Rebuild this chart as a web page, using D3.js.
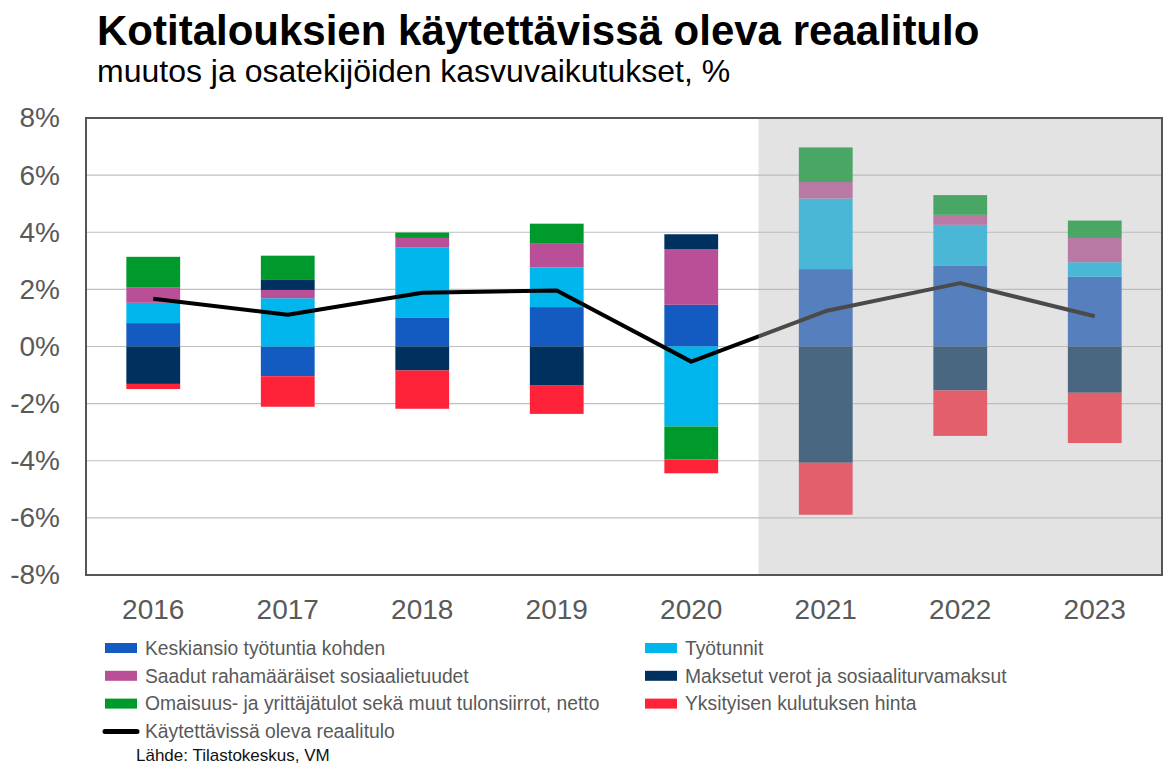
<!DOCTYPE html>
<html>
<head>
<meta charset="utf-8">
<script src="https://cdn.jsdelivr.net/npm/d3@7"></script>
<style>
  body { margin: 0; background: #fff; }
  svg { display: block; font-family: "Liberation Sans", Arial, sans-serif; }
</style>
</head>
<body>
<svg id="chart" width="1163" height="767"></svg>
<script>
// Data (percent)
const years = ["2016", "2017", "2018", "2019", "2020", "2021", "2022", "2023"];
const forecastFrom = "2021";

const seriesNames = [
  "Keskiansio työtuntia kohden",
  "Työtunnit",
  "Saadut rahamääräiset sosiaalietuudet",
  "Maksetut verot ja sosiaaliturvamaksut",
  "Omaisuus- ja yrittäjätulot sekä muut tulonsiirrot, netto",
  "Yksityisen kulutuksen hinta"
];
const seriesColors = ["#135bc0", "#00b6ec", "#b84f97", "#00315e", "#009a2c", "#ff2339"];

const keskiansio = [0.82, -1.04, 1.02, 1.38, 1.46, 2.71, 2.82, 2.44];
const tyotunnit  = [0.71, 1.69, 2.44, 1.39, -2.80, 2.47, 1.44, 0.51];
const etuudet    = [0.53, 0.29, 0.34, 0.85, 1.94, 0.58, 0.35, 0.85];
const verot      = [-1.31, 0.35, -0.84, -1.35, 0.53, -4.07, -1.54, -1.62];
const omaisuus   = [1.08, 0.85, 0.19, 0.68, -1.15, 1.21, 0.69, 0.61];
const hinta      = [-0.18, -1.07, -1.34, -1.01, -0.49, -1.82, -1.59, -1.76];

const reaalituloName = "Käytettävissä oleva reaalitulo";
const reaalitulo = [1.67, 1.11, 1.88, 1.96, -0.53, 1.24, 2.22, 1.06];

const yTicks = [-8, -6, -4, -2, 0, 2, 4, 6, 8];

const allSeries = [keskiansio, tyotunnit, etuudet, verot, omaisuus, hinta];

// Table for the stack
const table = years.map((y, i) => {
  const row = { year: y };
  seriesNames.forEach((s, j) => { row[s] = allSeries[j][i]; });
  return row;
});

const svg = d3.select("#chart");
const margin = { top: 118, right: 1, bottom: 192, left: 86 };
const width = 1163 - margin.left - margin.right;
const height = 767 - margin.top - margin.bottom;

const x = d3.scaleBand().domain(years).range([0, width]).paddingInner(0.6).paddingOuter(0.3);
const y = d3.scaleLinear().domain([-8, 8]).range([height, 0]);
const color = d3.scaleOrdinal(seriesNames, seriesColors);

const textGray = "#595959";

// Title
svg.append("text")
  .attr("x", 97).attr("y", 45)
  .attr("font-size", 42).attr("font-weight", "bold").attr("fill", "#000")
  .text("Kotitalouksien käytettävissä oleva reaalitulo");
svg.append("text")
  .attr("x", 97).attr("y", 82)
  .attr("font-size", 32).attr("fill", "#000")
  .text("muutos ja osatekijöiden kasvuvaikutukset, %");

const g = svg.append("g").attr("transform", `translate(${margin.left},${margin.top})`);

// Gridlines
g.append("g")
  .selectAll("line")
  .data(yTicks)
  .join("line")
  .attr("x1", 0).attr("x2", width)
  .attr("y1", d => y(d)).attr("y2", d => y(d))
  .attr("stroke", "#bfbfbf").attr("stroke-width", 1.2);

// Stacked bars
const stack = d3.stack().keys(seriesNames).offset(d3.stackOffsetDiverging);
const stacked = stack(table);

g.append("g")
  .selectAll("g")
  .data(stacked)
  .join("g")
  .attr("fill", d => color(d.key))
  .selectAll("rect")
  .data(d => d)
  .join("rect")
  .attr("x", d => x(d.data.year))
  .attr("width", x.bandwidth())
  .attr("y", d => y(Math.max(d[0], d[1])))
  .attr("height", d => Math.abs(y(d[0]) - y(d[1])));

// Line
const line = d3.line()
  .x((d, i) => x(years[i]) + x.bandwidth() / 2)
  .y(d => y(d));

g.append("path")
  .datum(reaalitulo)
  .attr("fill", "none")
  .attr("stroke", "#000")
  .attr("stroke-width", 4)
  .attr("stroke-linejoin", "round")
  .attr("d", line);

// Forecast shading (semi-transparent overlay)
const shadeX = x(forecastFrom) - x.step() * x.paddingInner() / 2;
g.append("rect")
  .attr("x", shadeX)
  .attr("y", 0)
  .attr("width", width - shadeX)
  .attr("height", height)
  .attr("fill", "rgb(185,185,185)")
  .attr("fill-opacity", 0.4);

// Plot border
g.append("rect")
  .attr("x", 0).attr("y", 0)
  .attr("width", width).attr("height", height)
  .attr("fill", "none")
  .attr("stroke", "#555").attr("stroke-width", 2);

// Y axis labels
const yAxis = g.append("g")
  .call(d3.axisLeft(y).tickValues(yTicks).tickFormat(d => d + "%").tickSize(0).tickPadding(26));
yAxis.select(".domain").remove();
yAxis.selectAll("text")
  .attr("font-size", 28)
  .attr("font-family", "Liberation Sans, Arial, sans-serif")
  .attr("fill", textGray);

// X axis labels
const xAxis = g.append("g")
  .attr("transform", `translate(0,${height})`)
  .call(d3.axisBottom(x).tickSize(0).tickPadding(24));
xAxis.select(".domain").remove();
xAxis.selectAll("text")
  .attr("font-size", 28)
  .attr("font-family", "Liberation Sans, Arial, sans-serif")
  .attr("fill", textGray);

// Legend
const legendItems = [
  { name: seriesNames[0], col: 0, row: 0 },
  { name: seriesNames[1], col: 1, row: 0 },
  { name: seriesNames[2], col: 0, row: 1 },
  { name: seriesNames[3], col: 1, row: 1 },
  { name: seriesNames[4], col: 0, row: 2 },
  { name: seriesNames[5], col: 1, row: 2 }
];
const legend = svg.append("g").attr("transform", "translate(105,648)");
const items = legend.selectAll("g")
  .data(legendItems)
  .join("g")
  .attr("transform", d => `translate(${d.col * 540},${d.row * 27.8})`);
items.append("rect")
  .attr("x", 0).attr("y", -5)
  .attr("width", 32).attr("height", 10)
  .attr("fill", d => color(d.name));
items.append("text")
  .attr("x", 40).attr("y", 0).attr("dy", "0.35em")
  .attr("font-size", 19.3).attr("fill", textGray)
  .text(d => d.name);

const lineItem = legend.append("g").attr("transform", `translate(0,${3 * 27.8})`);
lineItem.append("line")
  .attr("x1", 0).attr("x2", 32)
  .attr("stroke", "#000").attr("stroke-width", 5).attr("stroke-linecap", "round");
lineItem.append("text")
  .attr("x", 40).attr("dy", "0.35em")
  .attr("font-size", 19.3).attr("fill", textGray)
  .text(reaalituloName);

svg.append("text")
  .attr("x", 136).attr("y", 761)
  .attr("font-size", 17).attr("fill", "#111")
  .text("Lähde: Tilastokeskus, VM");
</script>
</body>
</html>
